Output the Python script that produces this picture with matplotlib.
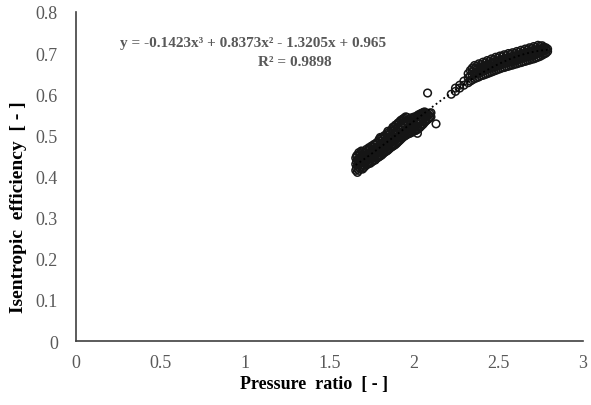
"""Pressure ratio vs isentropic efficiency scatter with cubic trendline."""

import matplotlib
matplotlib.use("Agg")
import matplotlib.pyplot as plt
import numpy as np
from matplotlib.ticker import FuncFormatter

# lower cluster (pressure ratio, efficiency)
low_cols = [
    (1.655, [0.415, 0.430, 0.445]),
    (1.660, [0.420, 0.436, 0.450]),
    (1.665, [0.410, 0.425, 0.440, 0.452]),
    (1.673, [0.415, 0.430, 0.443, 0.458]),
    (1.680, [0.420, 0.432, 0.446, 0.455]),
    (1.688, [0.424, 0.437, 0.450, 0.462]),
    (1.695, [0.418, 0.428, 0.440, 0.452, 0.460]),
    (1.703, [0.422, 0.433, 0.445, 0.456]),
    (1.710, [0.425, 0.437, 0.447, 0.458]),
    (1.718, [0.428, 0.440, 0.452, 0.466]),
    (1.725, [0.430, 0.441, 0.452, 0.463]),
    (1.733, [0.433, 0.446, 0.458, 0.470]),
    (1.740, [0.432, 0.445, 0.457, 0.468]),
    (1.748, [0.435, 0.450, 0.462, 0.474]),
    (1.755, [0.437, 0.449, 0.460, 0.472]),
    (1.763, [0.440, 0.454, 0.467, 0.478]),
    (1.770, [0.440, 0.452, 0.465, 0.477]),
    (1.778, [0.444, 0.457, 0.470, 0.482]),
    (1.785, [0.446, 0.458, 0.470, 0.482]),
    (1.793, [0.448, 0.462, 0.476, 0.490]),
    (1.800, [0.450, 0.462, 0.474, 0.486, 0.495]),
    (1.808, [0.452, 0.466, 0.480, 0.494]),
    (1.815, [0.455, 0.467, 0.479, 0.490]),
    (1.823, [0.458, 0.471, 0.485, 0.499]),
    (1.830, [0.460, 0.472, 0.484, 0.496]),
    (1.838, [0.462, 0.476, 0.490, 0.504]),
    (1.845, [0.464, 0.476, 0.488, 0.500, 0.510]),
    (1.853, [0.467, 0.480, 0.494, 0.508]),
    (1.860, [0.470, 0.482, 0.494, 0.505]),
    (1.868, [0.472, 0.485, 0.499, 0.514]),
    (1.875, [0.474, 0.486, 0.498, 0.510, 0.520]),
    (1.883, [0.476, 0.490, 0.505, 0.520]),
    (1.890, [0.478, 0.490, 0.502, 0.514, 0.525]),
    (1.898, [0.481, 0.495, 0.510, 0.526]),
    (1.905, [0.484, 0.496, 0.508, 0.520, 0.530]),
    (1.913, [0.487, 0.500, 0.515, 0.532]),
    (1.920, [0.490, 0.500, 0.512, 0.524, 0.536]),
    (1.928, [0.493, 0.506, 0.521, 0.538]),
    (1.935, [0.496, 0.506, 0.518, 0.530, 0.540]),
    (1.943, [0.498, 0.512, 0.527, 0.542]),
    (1.950, [0.500, 0.510, 0.522, 0.534, 0.545]),
    (1.958, [0.502, 0.515, 0.531, 0.544]),
    (1.965, [0.504, 0.516, 0.528, 0.538]),
    (1.973, [0.505, 0.518, 0.534]),
    (1.980, [0.506, 0.518, 0.530, 0.542]),
    (1.988, [0.508, 0.523, 0.538]),
    (1.995, [0.510, 0.520, 0.532, 0.544]),
    (2.003, [0.511, 0.527, 0.541]),
    (2.010, [0.512, 0.524, 0.536, 0.546]),
    (2.018, [0.514, 0.531, 0.545]),
    (2.025, [0.516, 0.528, 0.540, 0.550]),
    (2.033, [0.519, 0.537, 0.550]),
    (2.040, [0.522, 0.534, 0.545, 0.553]),
    (2.048, [0.525, 0.543, 0.554]),
    (2.055, [0.528, 0.540, 0.550, 0.556]),
    (2.063, [0.532, 0.548, 0.557]),
    (2.070, [0.535, 0.545, 0.554]),
    (2.078, [0.538, 0.552]),
    (2.085, [0.540, 0.550]),
    (2.093, [0.543, 0.553]),
    (2.100, [0.545, 0.555]),
]

# upper cluster
high_cols = [
    (2.220, [0.600]),
    (2.245, [0.607, 0.615]),
    (2.270, [0.615, 0.622]),
    (2.295, [0.622, 0.632]),
    (2.320, [0.628, 0.640, 0.650]),
    (2.333, [0.632, 0.645, 0.658]),
    (2.345, [0.635, 0.645, 0.655, 0.664]),
    (2.358, [0.638, 0.650, 0.662, 0.670]),
    (2.370, [0.640, 0.650, 0.660, 0.668]),
    (2.383, [0.642, 0.653, 0.665, 0.674]),
    (2.395, [0.645, 0.655, 0.664, 0.672]),
    (2.408, [0.646, 0.657, 0.668, 0.678]),
    (2.420, [0.648, 0.658, 0.668, 0.676]),
    (2.433, [0.650, 0.661, 0.672, 0.682]),
    (2.445, [0.652, 0.662, 0.672, 0.680]),
    (2.458, [0.654, 0.665, 0.676, 0.686]),
    (2.470, [0.656, 0.666, 0.676, 0.684]),
    (2.483, [0.658, 0.669, 0.680, 0.690]),
    (2.495, [0.660, 0.670, 0.680, 0.688]),
    (2.508, [0.662, 0.672, 0.683, 0.693]),
    (2.520, [0.664, 0.673, 0.683, 0.691]),
    (2.533, [0.665, 0.675, 0.686, 0.696]),
    (2.545, [0.667, 0.676, 0.686, 0.694]),
    (2.558, [0.668, 0.678, 0.689, 0.699]),
    (2.570, [0.670, 0.679, 0.688, 0.697]),
    (2.583, [0.671, 0.681, 0.692, 0.701]),
    (2.595, [0.673, 0.682, 0.691, 0.699]),
    (2.608, [0.674, 0.684, 0.695, 0.704]),
    (2.620, [0.676, 0.685, 0.694, 0.702]),
    (2.633, [0.677, 0.687, 0.698, 0.707]),
    (2.645, [0.679, 0.688, 0.697, 0.705]),
    (2.658, [0.680, 0.690, 0.701, 0.710]),
    (2.670, [0.682, 0.691, 0.700, 0.708]),
    (2.683, [0.683, 0.693, 0.704, 0.713]),
    (2.695, [0.685, 0.694, 0.703, 0.711]),
    (2.708, [0.686, 0.696, 0.707, 0.716]),
    (2.720, [0.688, 0.697, 0.706, 0.714]),
    (2.733, [0.690, 0.699, 0.710, 0.719]),
    (2.745, [0.692, 0.700, 0.709, 0.717]),
    (2.758, [0.695, 0.703, 0.712, 0.718]),
    (2.770, [0.698, 0.706, 0.714]),
    (2.780, [0.700, 0.708, 0.713]),
    (2.790, [0.704, 0.710]),
]

outlier_x = [2.08, 2.13, 2.02]
outlier_y = [0.603, 0.528, 0.505]

# trendline coefficients (cubic, highest power first) as printed on the chart
trend_coef = [-0.1423, 0.8373, -1.3205, 0.965]
r_squared = 0.9898

x_ticks = [0, 0.5, 1, 1.5, 2, 2.5, 3]
y_ticks = [0, 0.1, 0.2, 0.3, 0.4, 0.5, 0.6, 0.7, 0.8]

plt.rcParams["font.family"] = ["Liberation Serif", "DejaVu Serif"]

xs, ys = [], []
for cols in (low_cols, high_cols):
    for xv, yvals in cols:
        for yv in yvals:
            xs.append(xv)
            ys.append(yv)
xs += outlier_x
ys += outlier_y
xs = np.array(xs)
ys = np.array(ys)

fig = plt.figure(figsize=(5.91, 4.06), dpi=100)
ax = fig.add_axes([0.1286, 0.1576, 0.858, 0.8104])

ax.scatter(xs, ys, s=30, facecolors="none", edgecolors="#151515",
           linewidths=1.1, zorder=3)

xt = np.linspace(xs.min(), xs.max(), 200)
ax.plot(xt, np.polyval(trend_coef, xt), color="black", linestyle=":",
        linewidth=1.3, zorder=4)

ax.set_xlim(0, 3)
ax.set_ylim(0, 0.8)
ax.set_xticks(x_ticks)
ax.set_yticks(y_ticks)
fmt = FuncFormatter(lambda v, p: f"{v:g}")
ax.xaxis.set_major_formatter(fmt)
ax.yaxis.set_major_formatter(fmt)
ax.tick_params(axis="both", length=0, labelsize=13, labelcolor="#595959")
ax.tick_params(axis="y", pad=13)
ax.tick_params(axis="x", pad=9)

for side in ("top", "right"):
    ax.spines[side].set_visible(False)
for side in ("left", "bottom"):
    ax.spines[side].set_color("#404040")
    ax.spines[side].set_linewidth(1.2)

fig.text(0.532, 0.053, "Pressure  ratio  [ - ]", fontsize=13, fontweight="bold",
         ha="center", va="center")
fig.text(0.031, 0.49, "Isentropic  efficiency  [ - ]", rotation=90, fontsize=14,
         fontweight="bold", ha="center", va="center")

eq = (f"y = {trend_coef[0]}x\u00b3 + {trend_coef[1]}x\u00b2 - "
      f"{abs(trend_coef[2])}x + {trend_coef[3]}")
fig.text(0.428, 0.894, eq, fontsize=11, fontweight="bold", color="#595959",
         ha="center", va="center")
fig.text(0.499, 0.847, f"R\u00b2 = {r_squared}", fontsize=11, fontweight="bold",
         color="#595959", ha="center", va="center")

fig.savefig("out.png", dpi=100)
